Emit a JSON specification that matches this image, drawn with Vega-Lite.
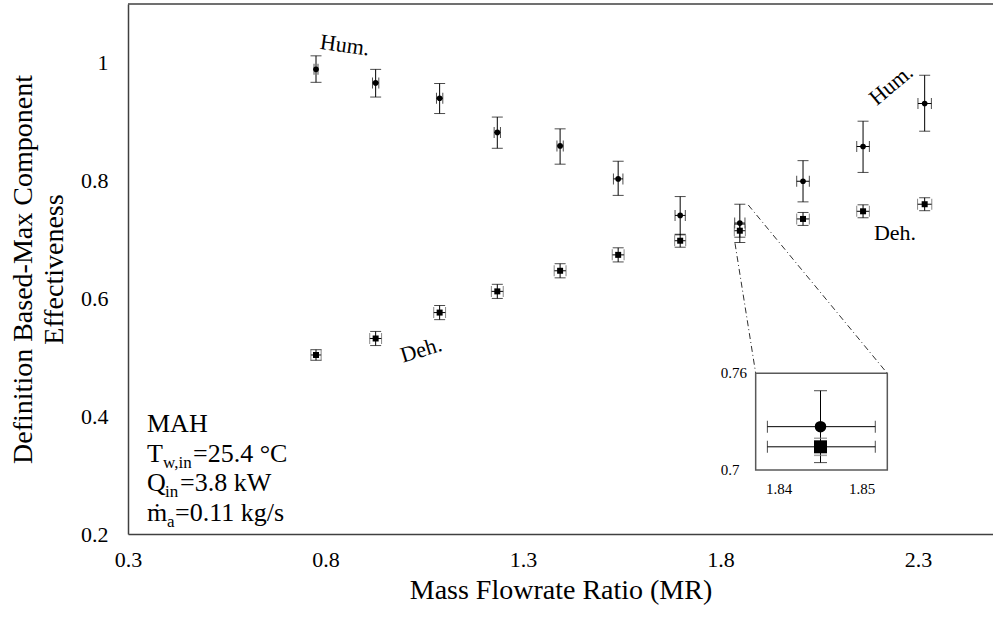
{
  "$schema": "https://vega.github.io/schema/vega-lite/v6.json",
  "width": 865,
  "height": 530,
  "autosize": {"type": "none"},
  "padding": {"left": 128, "top": 4, "right": 0, "bottom": 87},
  "background": "white",
  "config": {
    "font": "Liberation Serif",
    "view": {"stroke": null},
    "axis": {
      "labelFont": "Liberation Serif",
      "titleFont": "Liberation Serif",
      "labelColor": "#000000",
      "titleColor": "#000000",
      "titleFontWeight": "normal",
      "ticks": false,
      "grid": false,
      "domainColor": "#404040",
      "domainWidth": 1.5,
      "labelFlush": false,
      "labelOverlap": false,
      "labelBound": false
    },
    "text": {"font": "Liberation Serif", "color": "#000000"}
  },
  "datasets": {
    "main": [
      {"mr": 0.776, "mr_lo": 0.771, "mr_hi": 0.781, "hum": 0.989, "hum_lo": 0.967, "hum_hi": 1.012, "deh": 0.504, "deh_lo": 0.495, "deh_hi": 0.513, "dmr_lo": 0.763, "dmr_hi": 0.789},
      {"mr": 0.927, "mr_lo": 0.919, "mr_hi": 0.935, "hum": 0.966, "hum_lo": 0.942, "hum_hi": 0.989, "deh": 0.532, "deh_lo": 0.520, "deh_hi": 0.544, "dmr_lo": 0.912, "dmr_hi": 0.942},
      {"mr": 1.089, "mr_lo": 1.081, "mr_hi": 1.097, "hum": 0.940, "hum_lo": 0.914, "hum_hi": 0.965, "deh": 0.576, "deh_lo": 0.564, "deh_hi": 0.588, "dmr_lo": 1.074, "dmr_hi": 1.104},
      {"mr": 1.235, "mr_lo": 1.227, "mr_hi": 1.243, "hum": 0.882, "hum_lo": 0.855, "hum_hi": 0.908, "deh": 0.612, "deh_lo": 0.600, "deh_hi": 0.624, "dmr_lo": 1.220, "dmr_hi": 1.250},
      {"mr": 1.394, "mr_lo": 1.386, "mr_hi": 1.402, "hum": 0.859, "hum_lo": 0.828, "hum_hi": 0.888, "deh": 0.647, "deh_lo": 0.635, "deh_hi": 0.659, "dmr_lo": 1.379, "dmr_hi": 1.409},
      {"mr": 1.541, "mr_lo": 1.529, "mr_hi": 1.553, "hum": 0.803, "hum_lo": 0.775, "hum_hi": 0.833, "deh": 0.674, "deh_lo": 0.662, "deh_hi": 0.686, "dmr_lo": 1.526, "dmr_hi": 1.556},
      {"mr": 1.698, "mr_lo": 1.685, "mr_hi": 1.711, "hum": 0.741, "hum_lo": 0.708, "hum_hi": 0.773, "deh": 0.698, "deh_lo": 0.687, "deh_hi": 0.709, "dmr_lo": 1.684, "dmr_hi": 1.712},
      {"mr": 1.849, "mr_lo": 1.836, "mr_hi": 1.862, "hum": 0.728, "hum_lo": 0.695, "hum_hi": 0.760, "deh": 0.715, "deh_lo": 0.704, "deh_hi": 0.726, "dmr_lo": 1.835, "dmr_hi": 1.863},
      {"mr": 2.009, "mr_lo": 1.993, "mr_hi": 2.025, "hum": 0.799, "hum_lo": 0.764, "hum_hi": 0.834, "deh": 0.735, "deh_lo": 0.724, "deh_hi": 0.746, "dmr_lo": 1.993, "dmr_hi": 2.025},
      {"mr": 2.161, "mr_lo": 2.145, "mr_hi": 2.177, "hum": 0.858, "hum_lo": 0.814, "hum_hi": 0.901, "deh": 0.748, "deh_lo": 0.737, "deh_hi": 0.759, "dmr_lo": 2.145, "dmr_hi": 2.177},
      {"mr": 2.317, "mr_lo": 2.300, "mr_hi": 2.334, "hum": 0.931, "hum_lo": 0.884, "hum_hi": 0.979, "deh": 0.760, "deh_lo": 0.749, "deh_hi": 0.771, "dmr_lo": 2.299, "dmr_hi": 2.335}
    ],
    "inset": [
      {"mr": 1.845, "mr_lo": 1.8386, "mr_hi": 1.8516, "hum": 0.7269, "hum_lo": 0.7046, "hum_hi": 0.7492, "deh": 0.7144, "deh_lo": 0.7091, "deh_hi": 0.7197}
    ],
    "links": [
      {"x1": 1.8704, "y1": 0.7587, "x2": 2.2223, "y2": 0.4729},
      {"x1": 1.8368, "y1": 0.6937, "x2": 1.8892, "y2": 0.4729}
    ],
    "one": [{}]
  },
  "layer": [
    {
      "layer": [
        {
          "data": {"name": "main"},
          "mark": {"type": "rule", "color": "#000000", "strokeWidth": 1},
          "encoding": {
            "x": {"field": "mr", "type": "quantitative", "scale": {"domain": [0.3, 2.49], "nice": false, "zero": false},
              "axis": {"values": [0.3, 0.8, 1.3, 1.8, 2.3], "format": ".1f", "labelFontSize": 22, "labelPadding": 15, "titleFontSize": 28, "titlePadding": 6, "title": "Mass Flowrate Ratio (MR)"}},
            "y": {"field": "hum_lo", "type": "quantitative", "scale": {"domain": [0.2, 1.1], "nice": false, "zero": false},
              "axis": {"values": [0.2, 0.4, 0.6, 0.8, 1], "format": ".1~f", "labelFontSize": 22, "labelPadding": 20, "titleFontSize": 28, "titleLineHeight": 31, "titlePadding": 12, "title": ["Definition Based-Max Component", "Effectiveness"]}},
            "y2": {"field": "hum_hi"}
          }
        },
        {
          "data": {"name": "one"},
          "mark": {"type": "rule", "color": "#404040", "strokeWidth": 1.5},
          "encoding": {"y": {"datum": 1.1, "type": "quantitative", "scale": {"domain": [0.2, 1.1], "nice": false, "zero": false}}}
        },
        {
          "data": {"name": "links"},
          "mark": {"type": "rule", "color": "#303030", "strokeWidth": 1, "strokeDash": [6, 3, 1, 3]},
          "encoding": {
            "x": {"field": "x1", "type": "quantitative", "scale": {"domain": [0.3, 2.49], "nice": false, "zero": false}},
            "y": {"field": "y1", "type": "quantitative", "scale": {"domain": [0.2, 1.1], "nice": false, "zero": false}},
            "x2": {"field": "x2"},
            "y2": {"field": "y2"}
          }
        },
        {
          "data": {"name": "main"},
          "mark": {"type": "tick", "orient": "horizontal", "size": 11, "thickness": 1, "color": "#000000"},
          "encoding": {"x": {"field": "mr", "type": "quantitative"}, "y": {"field": "hum_lo", "type": "quantitative"}}
        },
        {
          "data": {"name": "main"},
          "mark": {"type": "tick", "orient": "horizontal", "size": 11, "thickness": 1, "color": "#000000"},
          "encoding": {"x": {"field": "mr", "type": "quantitative"}, "y": {"field": "hum_hi", "type": "quantitative"}}
        },
        {
          "data": {"name": "main"},
          "mark": {"type": "rule", "color": "#000000", "strokeWidth": 1},
          "encoding": {"x": {"field": "mr_lo", "type": "quantitative"}, "x2": {"field": "mr_hi"}, "y": {"field": "hum", "type": "quantitative"}}
        },
        {
          "data": {"name": "main"},
          "mark": {"type": "tick", "orient": "vertical", "size": 11, "thickness": 1, "color": "#000000"},
          "encoding": {"x": {"field": "mr_lo", "type": "quantitative"}, "y": {"field": "hum", "type": "quantitative"}}
        },
        {
          "data": {"name": "main"},
          "mark": {"type": "tick", "orient": "vertical", "size": 11, "thickness": 1, "color": "#000000"},
          "encoding": {"x": {"field": "mr_hi", "type": "quantitative"}, "y": {"field": "hum", "type": "quantitative"}}
        },
        {
          "data": {"name": "main"},
          "mark": {"type": "rule", "color": "#000000", "strokeWidth": 1},
          "encoding": {"x": {"field": "mr", "type": "quantitative"}, "y": {"field": "deh_lo", "type": "quantitative"}, "y2": {"field": "deh_hi"}}
        },
        {
          "data": {"name": "main"},
          "mark": {"type": "tick", "orient": "horizontal", "size": 11, "thickness": 1, "color": "#000000"},
          "encoding": {"x": {"field": "mr", "type": "quantitative"}, "y": {"field": "deh_lo", "type": "quantitative"}}
        },
        {
          "data": {"name": "main"},
          "mark": {"type": "tick", "orient": "horizontal", "size": 11, "thickness": 1, "color": "#000000"},
          "encoding": {"x": {"field": "mr", "type": "quantitative"}, "y": {"field": "deh_hi", "type": "quantitative"}}
        },
        {
          "data": {"name": "main"},
          "mark": {"type": "rule", "color": "#000000", "strokeWidth": 1},
          "encoding": {"x": {"field": "dmr_lo", "type": "quantitative"}, "x2": {"field": "dmr_hi"}, "y": {"field": "deh", "type": "quantitative"}}
        },
        {
          "data": {"name": "main"},
          "mark": {"type": "tick", "orient": "vertical", "size": 11, "thickness": 1, "color": "#555555"},
          "encoding": {"x": {"field": "dmr_lo", "type": "quantitative"}, "y": {"field": "deh", "type": "quantitative"}}
        },
        {
          "data": {"name": "main"},
          "mark": {"type": "tick", "orient": "vertical", "size": 11, "thickness": 1, "color": "#555555"},
          "encoding": {"x": {"field": "dmr_hi", "type": "quantitative"}, "y": {"field": "deh", "type": "quantitative"}}
        },
        {
          "data": {"name": "main"},
          "mark": {"type": "point", "shape": "circle", "filled": true, "size": 32, "color": "#000000", "opacity": 1},
          "encoding": {"x": {"field": "mr", "type": "quantitative"}, "y": {"field": "hum", "type": "quantitative"}}
        },
        {
          "data": {"name": "main"},
          "mark": {"type": "point", "shape": "square", "filled": true, "size": 36, "color": "#000000", "opacity": 1},
          "encoding": {"x": {"field": "mr", "type": "quantitative"}, "y": {"field": "deh", "type": "quantitative"}}
        },
        {
          "data": {"name": "one"},
          "mark": {"type": "text", "text": "Hum.", "fontSize": 22, "angle": 8, "align": "center", "baseline": "middle"},
          "encoding": {"x": {"datum": 0.849, "type": "quantitative"}, "y": {"datum": 1.03, "type": "quantitative"}}
        },
        {
          "data": {"name": "one"},
          "mark": {"type": "text", "text": "Deh.", "fontSize": 22, "angle": -17, "align": "center", "baseline": "middle"},
          "encoding": {"x": {"datum": 1.042, "type": "quantitative"}, "y": {"datum": 0.5125, "type": "quantitative"}}
        },
        {
          "data": {"name": "one"},
          "mark": {"type": "text", "text": "Hum.", "fontSize": 22, "angle": -40, "align": "center", "baseline": "middle"},
          "encoding": {"x": {"datum": 2.232, "type": "quantitative"}, "y": {"datum": 0.9625, "type": "quantitative"}}
        },
        {
          "data": {"name": "one"},
          "mark": {"type": "text", "text": "Deh.", "fontSize": 22, "angle": 0, "align": "center", "baseline": "middle"},
          "encoding": {"x": {"datum": 2.242, "type": "quantitative"}, "y": {"datum": 0.711, "type": "quantitative"}}
        },
        {
          "data": {"name": "one"},
          "mark": {"type": "text", "text": "MAH", "fontSize": 26, "align": "left", "baseline": "alphabetic", "dx": 19},
          "encoding": {"x": {"datum": 0.3, "type": "quantitative"}, "y": {"datum": 0.3735, "type": "quantitative"}}
        },
        {
          "data": {"name": "one"},
          "mark": {"type": "text", "text": "T", "fontSize": 26, "align": "left", "baseline": "alphabetic", "dx": 19},
          "encoding": {"x": {"datum": 0.3, "type": "quantitative"}, "y": {"datum": 0.3225, "type": "quantitative"}}
        },
        {
          "data": {"name": "one"},
          "mark": {"type": "text", "text": "w,in", "fontSize": 17, "align": "left", "baseline": "alphabetic", "dx": 35, "dy": 6},
          "encoding": {"x": {"datum": 0.3, "type": "quantitative"}, "y": {"datum": 0.3225, "type": "quantitative"}}
        },
        {
          "data": {"name": "one"},
          "mark": {"type": "text", "text": "=25.4 °C", "fontSize": 26, "align": "left", "baseline": "alphabetic", "dx": 65},
          "encoding": {"x": {"datum": 0.3, "type": "quantitative"}, "y": {"datum": 0.3225, "type": "quantitative"}}
        },
        {
          "data": {"name": "one"},
          "mark": {"type": "text", "text": "Q", "fontSize": 26, "align": "left", "baseline": "alphabetic", "dx": 19},
          "encoding": {"x": {"datum": 0.3, "type": "quantitative"}, "y": {"datum": 0.2736, "type": "quantitative"}}
        },
        {
          "data": {"name": "one"},
          "mark": {"type": "text", "text": "in", "fontSize": 17, "align": "left", "baseline": "alphabetic", "dx": 37, "dy": 6},
          "encoding": {"x": {"datum": 0.3, "type": "quantitative"}, "y": {"datum": 0.2736, "type": "quantitative"}}
        },
        {
          "data": {"name": "one"},
          "mark": {"type": "text", "text": "=3.8 kW", "fontSize": 26, "align": "left", "baseline": "alphabetic", "dx": 52},
          "encoding": {"x": {"datum": 0.3, "type": "quantitative"}, "y": {"datum": 0.2736, "type": "quantitative"}}
        },
        {
          "data": {"name": "one"},
          "mark": {"type": "text", "text": "ṁ", "fontSize": 26, "align": "left", "baseline": "alphabetic", "dx": 19},
          "encoding": {"x": {"datum": 0.3, "type": "quantitative"}, "y": {"datum": 0.2226, "type": "quantitative"}}
        },
        {
          "data": {"name": "one"},
          "mark": {"type": "text", "text": "a", "fontSize": 17, "align": "left", "baseline": "alphabetic", "dx": 39, "dy": 6},
          "encoding": {"x": {"datum": 0.3, "type": "quantitative"}, "y": {"datum": 0.2226, "type": "quantitative"}}
        },
        {
          "data": {"name": "one"},
          "mark": {"type": "text", "text": "=0.11 kg/s", "fontSize": 26, "align": "left", "baseline": "alphabetic", "dx": 47},
          "encoding": {"x": {"datum": 0.3, "type": "quantitative"}, "y": {"datum": 0.2226, "type": "quantitative"}}
        }
      ]
    },
    {
      "layer": [
        {
          "data": {"name": "one"},
          "mark": {"type": "rect", "fill": "white", "stroke": "#595959", "strokeWidth": 1.5},
          "encoding": {
            "x": {"datum": 1.83719, "type": "quantitative", "scale": {"domain": [1.761566, 1.865783], "nice": false, "zero": false}, "axis": null},
            "x2": {"datum": 1.85305},
            "y": {"datum": 0.7, "type": "quantitative", "scale": {"domain": [0.6603, 0.98914], "nice": false, "zero": false}, "axis": null},
            "y2": {"datum": 0.76}
          }
        },
        {
          "data": {"name": "inset"},
          "mark": {"type": "rule", "color": "#000000", "strokeWidth": 1},
          "encoding": {
            "x": {"field": "mr", "type": "quantitative", "scale": {"domain": [1.761566, 1.865783], "nice": false, "zero": false}, "axis": null},
            "y": {"field": "hum_lo", "type": "quantitative", "scale": {"domain": [0.6603, 0.98914], "nice": false, "zero": false}, "axis": null},
            "y2": {"field": "hum_hi"}
          }
        },
        {
          "data": {"name": "inset"},
          "mark": {"type": "tick", "orient": "horizontal", "size": 13, "thickness": 1, "color": "#000000"},
          "encoding": {"x": {"field": "mr", "type": "quantitative", "axis": null}, "y": {"field": "hum_lo", "type": "quantitative", "axis": null}}
        },
        {
          "data": {"name": "inset"},
          "mark": {"type": "tick", "orient": "horizontal", "size": 13, "thickness": 1, "color": "#000000"},
          "encoding": {"x": {"field": "mr", "type": "quantitative", "axis": null}, "y": {"field": "hum_hi", "type": "quantitative", "axis": null}}
        },
        {
          "data": {"name": "inset"},
          "mark": {"type": "tick", "orient": "horizontal", "size": 13, "thickness": 1.5, "color": "#808080"},
          "encoding": {"x": {"field": "mr", "type": "quantitative", "axis": null}, "y": {"field": "deh_lo", "type": "quantitative", "axis": null}}
        },
        {
          "data": {"name": "inset"},
          "mark": {"type": "tick", "orient": "horizontal", "size": 13, "thickness": 1.5, "color": "#808080"},
          "encoding": {"x": {"field": "mr", "type": "quantitative", "axis": null}, "y": {"field": "deh_hi", "type": "quantitative", "axis": null}}
        },
        {
          "data": {"name": "inset"},
          "mark": {"type": "rule", "color": "#000000", "strokeWidth": 1},
          "encoding": {"x": {"field": "mr_lo", "type": "quantitative", "axis": null}, "x2": {"field": "mr_hi"}, "y": {"field": "hum", "type": "quantitative", "axis": null}}
        },
        {
          "data": {"name": "inset"},
          "mark": {"type": "rule", "color": "#000000", "strokeWidth": 1},
          "encoding": {"x": {"field": "mr_lo", "type": "quantitative", "axis": null}, "x2": {"field": "mr_hi"}, "y": {"field": "deh", "type": "quantitative", "axis": null}}
        },
        {
          "data": {"name": "inset"},
          "mark": {"type": "tick", "orient": "vertical", "size": 12, "thickness": 1, "color": "#000000"},
          "encoding": {"x": {"field": "mr_lo", "type": "quantitative", "axis": null}, "y": {"field": "hum", "type": "quantitative", "axis": null}}
        },
        {
          "data": {"name": "inset"},
          "mark": {"type": "tick", "orient": "vertical", "size": 12, "thickness": 1, "color": "#000000"},
          "encoding": {"x": {"field": "mr_hi", "type": "quantitative", "axis": null}, "y": {"field": "hum", "type": "quantitative", "axis": null}}
        },
        {
          "data": {"name": "inset"},
          "mark": {"type": "tick", "orient": "vertical", "size": 12, "thickness": 1, "color": "#000000"},
          "encoding": {"x": {"field": "mr_lo", "type": "quantitative", "axis": null}, "y": {"field": "deh", "type": "quantitative", "axis": null}}
        },
        {
          "data": {"name": "inset"},
          "mark": {"type": "tick", "orient": "vertical", "size": 12, "thickness": 1, "color": "#000000"},
          "encoding": {"x": {"field": "mr_hi", "type": "quantitative", "axis": null}, "y": {"field": "deh", "type": "quantitative", "axis": null}}
        },
        {
          "data": {"name": "inset"},
          "mark": {"type": "point", "shape": "circle", "filled": true, "size": 133, "color": "#000000", "opacity": 1},
          "encoding": {"x": {"field": "mr", "type": "quantitative", "axis": null}, "y": {"field": "hum", "type": "quantitative", "axis": null}}
        },
        {
          "data": {"name": "inset"},
          "mark": {"type": "point", "shape": "square", "filled": true, "size": 169, "color": "#000000", "opacity": 1},
          "encoding": {"x": {"field": "mr", "type": "quantitative", "axis": null}, "y": {"field": "deh", "type": "quantitative", "axis": null}}
        },
        {
          "data": {"name": "one"},
          "mark": {"type": "text", "text": "0.76", "fontSize": 15, "align": "left", "baseline": "middle", "dx": -35},
          "encoding": {"x": {"datum": 1.83719, "type": "quantitative", "axis": null}, "y": {"datum": 0.76, "type": "quantitative", "axis": null}}
        },
        {
          "data": {"name": "one"},
          "mark": {"type": "text", "text": "0.7", "fontSize": 15, "align": "left", "baseline": "middle", "dx": -35},
          "encoding": {"x": {"datum": 1.83719, "type": "quantitative", "axis": null}, "y": {"datum": 0.7, "type": "quantitative", "axis": null}}
        },
        {
          "data": {"name": "one"},
          "mark": {"type": "text", "text": "1.84", "fontSize": 15, "align": "center", "baseline": "middle", "dy": 19},
          "encoding": {"x": {"datum": 1.84, "type": "quantitative", "axis": null}, "y": {"datum": 0.7, "type": "quantitative", "axis": null}}
        },
        {
          "data": {"name": "one"},
          "mark": {"type": "text", "text": "1.85", "fontSize": 15, "align": "center", "baseline": "middle", "dy": 19},
          "encoding": {"x": {"datum": 1.85, "type": "quantitative", "axis": null}, "y": {"datum": 0.7, "type": "quantitative", "axis": null}}
        }
      ]
    }
  ],
  "resolve": {"scale": {"x": "independent", "y": "independent"}}
}
